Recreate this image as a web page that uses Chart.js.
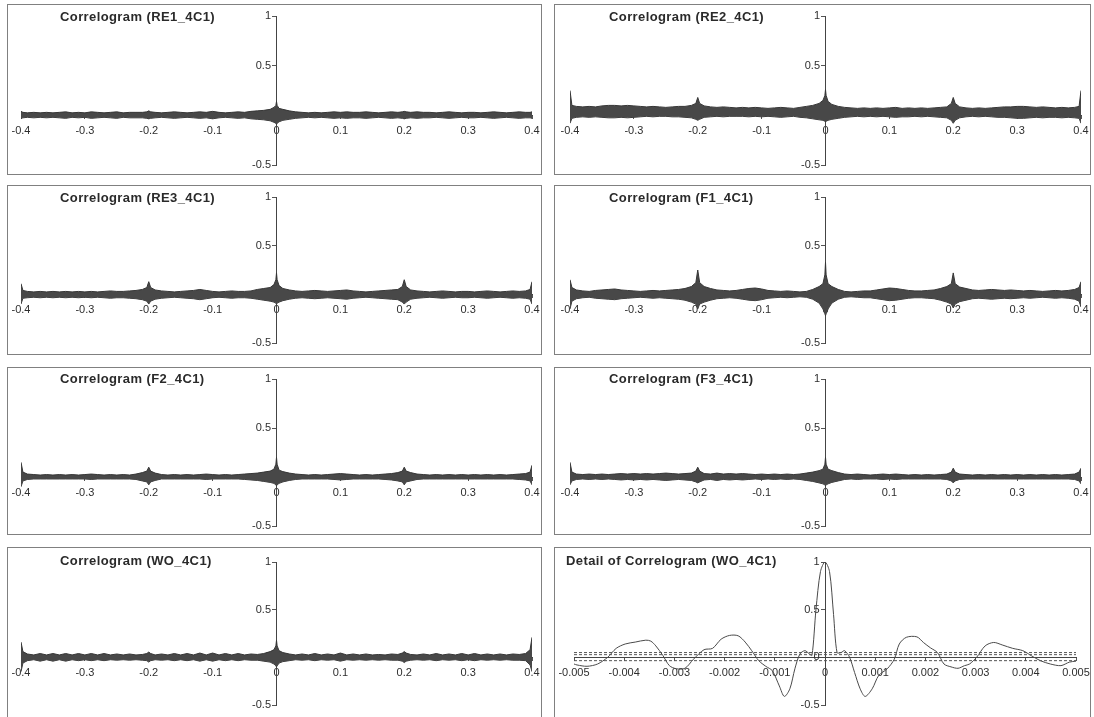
<!DOCTYPE html>
<html><head><meta charset="utf-8">
<script src="https://cdn.jsdelivr.net/npm/chart.js@4.4.1/dist/chart.umd.min.js"></script>
<style>
html,body{margin:0;padding:0;background:#fff;}
body{width:1094px;height:717px;position:relative;overflow:hidden;font-family:"Liberation Sans",Arial,sans-serif;}
.box{position:absolute;border:1px solid #808080;box-sizing:border-box;background:#fff;}
.box canvas{position:absolute;left:0;top:0;}
.ttl{position:absolute;font:bold 13px "Liberation Sans",Arial,sans-serif;letter-spacing:0.4px;color:#2a2a2a;white-space:nowrap;}
</style></head><body>
<script>
// ---------- DATA ----------
const lags = [-0.4,-0.397,-0.39,-0.38,-0.37,-0.36,-0.35,-0.34,-0.33,-0.32,
 -0.31,-0.3,-0.29,-0.28,-0.27,-0.26,-0.25,-0.24,-0.23,-0.22,
 -0.21,-0.203,-0.2,-0.197,-0.19,-0.18,-0.17,-0.16,-0.15,-0.14,
 -0.13,-0.12,-0.11,-0.1,-0.09,-0.08,-0.07,-0.06,-0.05,-0.04,
 -0.03,-0.02,-0.01,-0.004,-0.001,0,0.001,0.004,0.01,0.02,
 0.03,0.04,0.05,0.06,0.07,0.08,0.09,0.1,0.11,0.12,
 0.13,0.14,0.15,0.16,0.17,0.18,0.19,0.197,0.2,0.203,
 0.21,0.22,0.23,0.24,0.25,0.26,0.27,0.28,0.29,0.3,
 0.31,0.32,0.33,0.34,0.35,0.36,0.37,0.38,0.39,0.397,
 0.4];

const xTickVals = [-0.4,-0.3,-0.2,-0.1,0,0.1,0.2,0.3,0.4];
const xTickLabels = ["-0.4","-0.3","-0.2","-0.1","0","0.1","0.2","0.3","0.4"];
const yTickVals = [-0.5,0,0.5,1];
const yTickLabels = ["-0.5","0","0.5","1"];
const detailTickVals = [-0.005,-0.004,-0.003,-0.002,-0.001,0,0.001,0.002,0.003,0.004,0.005];
const detailTickLabels = ["-0.005","-0.004","-0.003","-0.002","-0.001","0","0.001","0.002","0.003","0.004","0.005"];

const re1Upper = [0.04,0.03,0.025,0.03,0.025,0.03,0.025,0.03,0.035,0.025,
 0.03,0.025,0.035,0.03,0.025,0.03,0.035,0.025,0.03,0.03,
 0.03,0.035,0.045,0.035,0.03,0.025,0.03,0.035,0.03,0.025,
 0.03,0.035,0.03,0.04,0.03,0.025,0.03,0.035,0.03,0.04,
 0.045,0.05,0.06,0.08,0.1,0.14,0.1,0.07,0.06,0.045,
 0.035,0.03,0.025,0.03,0.025,0.03,0.035,0.03,0.035,0.03,
 0.03,0.035,0.03,0.025,0.03,0.035,0.03,0.035,0.04,0.035,
 0.03,0.035,0.03,0.03,0.025,0.03,0.035,0.03,0.025,0.03,
 0.03,0.025,0.03,0.035,0.03,0.025,0.03,0.035,0.03,0.03,
 0.035];
const re1Lower = [-0.03,-0.025,-0.02,-0.025,-0.02,-0.025,-0.02,-0.025,-0.03,-0.02,
 -0.025,-0.02,-0.03,-0.025,-0.02,-0.025,-0.03,-0.02,-0.025,-0.025,
 -0.025,-0.03,-0.035,-0.03,-0.025,-0.02,-0.025,-0.03,-0.025,-0.02,
 -0.025,-0.03,-0.025,-0.035,-0.025,-0.02,-0.025,-0.03,-0.025,-0.035,
 -0.04,-0.045,-0.055,-0.07,-0.08,-0.09,-0.08,-0.065,-0.05,-0.04,
 -0.03,-0.025,-0.02,-0.025,-0.02,-0.025,-0.03,-0.025,-0.03,-0.025,
 -0.025,-0.03,-0.025,-0.02,-0.025,-0.03,-0.025,-0.03,-0.035,-0.03,
 -0.025,-0.03,-0.025,-0.025,-0.02,-0.025,-0.03,-0.025,-0.02,-0.025,
 -0.025,-0.02,-0.025,-0.03,-0.025,-0.02,-0.025,-0.03,-0.025,-0.025,
 -0.03];

const re2Upper = [0.25,0.1,0.09,0.085,0.09,0.085,0.095,0.1,0.1,0.095,
 0.1,0.095,0.09,0.085,0.09,0.085,0.08,0.085,0.09,0.09,
 0.1,0.12,0.18,0.12,0.095,0.085,0.08,0.085,0.08,0.075,
 0.08,0.075,0.08,0.075,0.07,0.075,0.08,0.075,0.07,0.08,
 0.09,0.1,0.12,0.15,0.2,0.26,0.2,0.14,0.11,0.09,
 0.08,0.075,0.07,0.075,0.07,0.075,0.07,0.075,0.08,0.07,
 0.075,0.07,0.075,0.07,0.075,0.08,0.085,0.12,0.18,0.12,
 0.085,0.075,0.07,0.075,0.07,0.075,0.08,0.085,0.085,0.09,
 0.09,0.085,0.08,0.085,0.08,0.075,0.08,0.075,0.08,0.09,
 0.25];
const re2Lower = [-0.08,-0.03,-0.02,-0.015,-0.02,-0.015,-0.02,-0.025,-0.025,-0.02,
 -0.025,-0.02,-0.015,-0.01,-0.015,-0.01,-0.01,-0.015,-0.015,-0.02,
 -0.025,-0.04,-0.05,-0.04,-0.02,-0.015,-0.01,-0.015,-0.01,-0.01,
 -0.01,-0.015,-0.01,-0.015,-0.01,-0.015,-0.02,-0.015,-0.01,-0.02,
 -0.025,-0.035,-0.045,-0.05,-0.06,-0.06,-0.06,-0.05,-0.04,-0.03,
 -0.02,-0.015,-0.01,-0.015,-0.01,-0.015,-0.01,-0.015,-0.02,-0.015,
 -0.015,-0.01,-0.015,-0.01,-0.015,-0.02,-0.025,-0.05,-0.08,-0.05,
 -0.025,-0.015,-0.01,-0.015,-0.01,-0.015,-0.02,-0.02,-0.025,-0.03,
 -0.03,-0.025,-0.02,-0.025,-0.02,-0.02,-0.025,-0.02,-0.025,-0.03,
 -0.08];

const re3Upper = [0.11,0.04,0.03,0.025,0.03,0.025,0.03,0.025,0.03,0.025,
 0.03,0.025,0.03,0.025,0.03,0.035,0.03,0.03,0.035,0.04,
 0.05,0.07,0.13,0.07,0.045,0.035,0.03,0.025,0.03,0.035,
 0.04,0.05,0.04,0.03,0.025,0.03,0.035,0.03,0.03,0.035,
 0.05,0.06,0.07,0.1,0.15,0.22,0.15,0.09,0.06,0.045,
 0.035,0.03,0.035,0.04,0.035,0.03,0.035,0.04,0.045,0.035,
 0.03,0.025,0.03,0.035,0.04,0.045,0.05,0.08,0.15,0.08,
 0.045,0.035,0.03,0.025,0.03,0.035,0.03,0.025,0.03,0.03,
 0.025,0.03,0.035,0.03,0.025,0.03,0.035,0.03,0.035,0.05,
 0.13];
const re3Lower = [-0.1,-0.04,-0.035,-0.03,-0.035,-0.03,-0.035,-0.03,-0.035,-0.03,
 -0.035,-0.03,-0.035,-0.03,-0.035,-0.04,-0.035,-0.035,-0.04,-0.045,
 -0.055,-0.07,-0.1,-0.07,-0.05,-0.04,-0.035,-0.03,-0.035,-0.04,
 -0.045,-0.055,-0.045,-0.035,-0.03,-0.035,-0.04,-0.035,-0.035,-0.04,
 -0.05,-0.06,-0.07,-0.08,-0.09,-0.1,-0.09,-0.08,-0.065,-0.05,
 -0.04,-0.035,-0.04,-0.045,-0.04,-0.035,-0.04,-0.045,-0.05,-0.04,
 -0.035,-0.03,-0.035,-0.04,-0.045,-0.05,-0.055,-0.08,-0.1,-0.08,
 -0.05,-0.04,-0.035,-0.03,-0.035,-0.04,-0.035,-0.03,-0.035,-0.035,
 -0.03,-0.035,-0.04,-0.035,-0.03,-0.035,-0.04,-0.035,-0.04,-0.05,
 -0.1];

const f1Upper = [0.15,0.07,0.045,0.035,0.03,0.04,0.045,0.05,0.055,0.045,
 0.04,0.035,0.03,0.035,0.04,0.035,0.04,0.045,0.05,0.06,
 0.08,0.12,0.25,0.12,0.08,0.06,0.045,0.04,0.035,0.04,
 0.05,0.06,0.065,0.055,0.04,0.035,0.03,0.035,0.03,0.025,
 0.03,0.05,0.08,0.11,0.2,0.33,0.2,0.11,0.08,0.05,
 0.03,0.025,0.03,0.035,0.035,0.045,0.055,0.065,0.06,0.05,
 0.04,0.035,0.035,0.04,0.045,0.06,0.08,0.11,0.22,0.11,
 0.075,0.06,0.045,0.04,0.045,0.05,0.045,0.04,0.045,0.04,
 0.035,0.04,0.035,0.03,0.035,0.04,0.035,0.04,0.05,0.07,
 0.13];
const f1Lower = [-0.15,-0.07,-0.045,-0.035,-0.03,-0.04,-0.045,-0.05,-0.055,-0.045,
 -0.04,-0.035,-0.03,-0.035,-0.04,-0.035,-0.04,-0.045,-0.05,-0.06,
 -0.08,-0.1,-0.15,-0.1,-0.08,-0.06,-0.045,-0.04,-0.035,-0.04,
 -0.05,-0.06,-0.065,-0.055,-0.04,-0.035,-0.03,-0.035,-0.03,-0.025,
 -0.03,-0.05,-0.09,-0.15,-0.2,-0.22,-0.2,-0.15,-0.09,-0.05,
 -0.03,-0.025,-0.03,-0.035,-0.035,-0.045,-0.055,-0.065,-0.06,-0.05,
 -0.04,-0.035,-0.035,-0.04,-0.045,-0.06,-0.08,-0.1,-0.14,-0.1,
 -0.075,-0.06,-0.045,-0.04,-0.045,-0.05,-0.045,-0.04,-0.045,-0.04,
 -0.035,-0.04,-0.035,-0.03,-0.035,-0.04,-0.035,-0.04,-0.05,-0.07,
 -0.13];

const f2Upper = [0.15,0.05,0.03,0.025,0.02,0.025,0.02,0.025,0.02,0.025,
 0.02,0.025,0.03,0.025,0.02,0.025,0.02,0.025,0.02,0.03,
 0.045,0.06,0.1,0.06,0.04,0.025,0.02,0.025,0.02,0.025,
 0.02,0.025,0.03,0.025,0.02,0.025,0.02,0.025,0.03,0.035,
 0.04,0.05,0.06,0.08,0.13,0.2,0.13,0.07,0.055,0.04,
 0.03,0.025,0.02,0.025,0.02,0.025,0.03,0.035,0.03,0.025,
 0.02,0.025,0.02,0.025,0.03,0.035,0.045,0.06,0.1,0.06,
 0.045,0.03,0.025,0.02,0.025,0.02,0.025,0.02,0.025,0.02,
 0.025,0.02,0.025,0.02,0.025,0.02,0.025,0.03,0.035,0.05,
 0.12];
const f2Lower = [-0.1,-0.04,-0.025,-0.02,-0.02,-0.02,-0.02,-0.02,-0.02,-0.02,
 -0.02,-0.02,-0.025,-0.02,-0.02,-0.02,-0.02,-0.02,-0.02,-0.025,
 -0.04,-0.05,-0.08,-0.05,-0.035,-0.02,-0.02,-0.02,-0.02,-0.02,
 -0.02,-0.02,-0.025,-0.02,-0.02,-0.02,-0.02,-0.02,-0.025,-0.03,
 -0.035,-0.045,-0.055,-0.065,-0.08,-0.09,-0.08,-0.065,-0.05,-0.035,
 -0.025,-0.02,-0.02,-0.02,-0.02,-0.02,-0.025,-0.03,-0.025,-0.02,
 -0.02,-0.02,-0.02,-0.02,-0.025,-0.03,-0.04,-0.05,-0.08,-0.05,
 -0.04,-0.025,-0.02,-0.02,-0.02,-0.02,-0.02,-0.02,-0.02,-0.02,
 -0.02,-0.02,-0.02,-0.02,-0.02,-0.02,-0.02,-0.025,-0.03,-0.04,
 -0.08];

const f3Upper = [0.15,0.05,0.03,0.025,0.03,0.025,0.03,0.025,0.03,0.035,
 0.03,0.035,0.03,0.035,0.03,0.035,0.04,0.035,0.03,0.035,
 0.04,0.06,0.1,0.06,0.035,0.03,0.04,0.03,0.035,0.03,
 0.035,0.03,0.025,0.03,0.025,0.03,0.025,0.03,0.025,0.03,
 0.04,0.05,0.065,0.08,0.13,0.2,0.13,0.08,0.065,0.045,
 0.03,0.025,0.03,0.025,0.02,0.025,0.03,0.025,0.03,0.025,
 0.02,0.025,0.02,0.025,0.02,0.025,0.03,0.05,0.09,0.05,
 0.03,0.025,0.02,0.025,0.02,0.025,0.02,0.025,0.02,0.025,
 0.02,0.025,0.02,0.025,0.02,0.025,0.02,0.025,0.03,0.05,
 0.09];
const f3Lower = [-0.08,-0.04,-0.025,-0.02,-0.025,-0.02,-0.025,-0.02,-0.025,-0.03,
 -0.025,-0.03,-0.025,-0.03,-0.025,-0.03,-0.035,-0.03,-0.025,-0.03,
 -0.035,-0.05,-0.06,-0.05,-0.03,-0.025,-0.035,-0.025,-0.03,-0.025,
 -0.03,-0.025,-0.02,-0.025,-0.02,-0.025,-0.02,-0.025,-0.02,-0.025,
 -0.035,-0.045,-0.06,-0.07,-0.08,-0.09,-0.08,-0.07,-0.055,-0.04,
 -0.025,-0.02,-0.025,-0.02,-0.02,-0.02,-0.025,-0.02,-0.025,-0.02,
 -0.02,-0.02,-0.02,-0.02,-0.02,-0.02,-0.025,-0.04,-0.06,-0.04,
 -0.025,-0.02,-0.02,-0.02,-0.02,-0.02,-0.02,-0.02,-0.02,-0.02,
 -0.02,-0.02,-0.02,-0.02,-0.02,-0.02,-0.02,-0.02,-0.025,-0.04,
 -0.07];

const woUpper = [0.16,0.06,0.035,0.025,0.04,0.025,0.04,0.025,0.04,0.025,
 0.04,0.025,0.04,0.025,0.04,0.025,0.035,0.025,0.035,0.025,
 0.03,0.04,0.055,0.04,0.025,0.035,0.025,0.04,0.025,0.04,
 0.025,0.045,0.025,0.045,0.025,0.04,0.025,0.04,0.025,0.035,
 0.03,0.04,0.06,0.08,0.12,0.18,0.12,0.07,0.05,0.035,
 0.025,0.035,0.025,0.04,0.025,0.035,0.025,0.045,0.025,0.035,
 0.025,0.035,0.025,0.03,0.025,0.035,0.03,0.045,0.06,0.045,
 0.03,0.025,0.035,0.025,0.04,0.025,0.035,0.025,0.04,0.025,
 0.04,0.025,0.035,0.025,0.035,0.025,0.035,0.03,0.04,0.08,
 0.21];
const woLower = [-0.15,-0.06,-0.035,-0.025,-0.04,-0.025,-0.04,-0.025,-0.04,-0.025,
 -0.035,-0.025,-0.035,-0.025,-0.035,-0.025,-0.03,-0.025,-0.03,-0.025,
 -0.03,-0.035,-0.05,-0.035,-0.025,-0.03,-0.025,-0.035,-0.025,-0.035,
 -0.025,-0.04,-0.025,-0.04,-0.025,-0.035,-0.025,-0.035,-0.025,-0.03,
 -0.03,-0.04,-0.05,-0.07,-0.09,-0.1,-0.09,-0.06,-0.045,-0.035,
 -0.025,-0.03,-0.025,-0.035,-0.025,-0.03,-0.025,-0.04,-0.025,-0.03,
 -0.025,-0.03,-0.025,-0.03,-0.025,-0.03,-0.03,-0.04,-0.055,-0.04,
 -0.03,-0.025,-0.03,-0.025,-0.035,-0.025,-0.03,-0.025,-0.035,-0.025,
 -0.035,-0.025,-0.03,-0.025,-0.03,-0.025,-0.03,-0.03,-0.035,-0.08,
 -0.15];

const detailLags = [-0.005,-0.00494,-0.00474,-0.00453,-0.00433,-0.00416,-0.00398,-0.00378,-0.00357,-0.00347,
 -0.00337,-0.00323,-0.0031,-0.00296,-0.00279,-0.00262,-0.00241,-0.00224,-0.00207,-0.0019,
 -0.00173,-0.00159,-0.00146,-0.00132,-0.00118,-0.00105,-0.00091,-0.00081,-0.0007,-0.0006,
 -0.0005,-0.0004,-0.00032,-0.00026,-0.00018,-0.00009,0,0.00009,0.00017,0.00024,
 0.00032,0.00039,0.00049,0.00059,0.0007,0.0008,0.00094,0.00107,0.00124,0.00138,
 0.00148,0.00162,0.00183,0.00196,0.0021,0.00224,0.00237,0.00251,0.00265,0.00278,
 0.00288,0.00302,0.00319,0.00336,0.00353,0.00374,0.00394,0.00411,0.00429,0.00449,
 0.0047,0.00487,0.005];
const detailValues = [-0.07,-0.08,-0.094,-0.07,0,0.094,0.14,0.16,0.18,0.17,
 0.12,0.02,-0.087,-0.12,-0.115,-0.02,0.08,0.094,0.19,0.23,
 0.226,0.16,0.07,-0.035,-0.094,-0.14,-0.3,-0.41,-0.33,-0.12,
 0.035,0.07,0.04,0.02,0.5,0.9,1.0,0.9,0.45,0.05,
 0.05,0.07,0,-0.16,-0.33,-0.41,-0.33,-0.19,-0.12,-0.02,
 0.14,0.21,0.215,0.156,0.1,0.05,-0.07,-0.1,-0.115,-0.087,
 -0.07,0,0.12,0.156,0.13,0.094,0.07,0.017,-0.035,-0.07,
 -0.087,-0.05,-0.04];
const detailBoundLevels = [0.05, 0.028, -0.035];

// ---------- LAYOUT ----------
const FONT = '"Liberation Sans", Arial, sans-serif';
const colGeom = [
  {left:7, width:535, padL:13, padR:9, titleX:60},
  {left:554, width:537, padL:15, padR:9, titleX:609}
];
const detailPad = {left:19, right:14};
const rowGeom = [
  {top:4, height:171, padT:11, padB:9, titleY:9},
  {top:185, height:170, padT:11, padB:11, titleY:190},
  {top:367, height:168, padT:11, padB:8, titleY:371},
  {top:547, height:172, padT:14, padB:13, titleY:553}
];
const panels = [
  {title:'Correlogram (RE1_4C1)', up:re1Upper, lo:re1Lower, col:0, row:0},
  {title:'Correlogram (RE2_4C1)', up:re2Upper, lo:re2Lower, col:1, row:0},
  {title:'Correlogram (RE3_4C1)', up:re3Upper, lo:re3Lower, col:0, row:1},
  {title:'Correlogram (F1_4C1)', up:f1Upper, lo:f1Lower, col:1, row:1},
  {title:'Correlogram (F2_4C1)', up:f2Upper, lo:f2Lower, col:0, row:2},
  {title:'Correlogram (F3_4C1)', up:f3Upper, lo:f3Lower, col:1, row:2},
  {title:'Correlogram (WO_4C1)', up:woUpper, lo:woLower, col:0, row:3},
  {title:'Detail of Correlogram (WO_4C1)', detail:true, col:1, row:3}
];

function zeroPad(s){ s.paddingLeft=0; s.paddingRight=0; s.paddingTop=0; s.paddingBottom=0; }

function scalesFor(xmin, xmax, xVals, xLabels){
  return {
    x:{type:'linear', min:xmin, max:xmax, position:{y:0},
       grid:{display:true, drawOnChartArea:false, drawTicks:true, tickLength:3, color:'#555', lineWidth:1},
       border:{display:true, color:'#444', width:1},
       afterBuildTicks:s=>{ s.ticks = xVals.map(v=>({value:v})); },
       ticks:{autoSkip:false, maxRotation:0, minRotation:0, padding:6, color:'#2e2e2e',
              font:{family:FONT, size:11}, callback:(v,i)=>xLabels[i]},
       afterFit:zeroPad},
    y:{type:'linear', min:-0.5, max:1, position:{x:0},
       grid:{display:true, drawOnChartArea:false, drawTicks:true, tickLength:4, color:'#555', lineWidth:1},
       border:{display:true, color:'#444', width:1},
       afterBuildTicks:s=>{ s.ticks = yTickVals.map(v=>({value:v})); },
       ticks:{autoSkip:false, color:'#2e2e2e', font:{family:FONT, size:11},
              callback:(v,i)=>yTickLabels[i] + '\u2002'},
       afterFit:zeroPad}
  };
}

panels.forEach(p=>{
  const c = colGeom[p.col], r = rowGeom[p.row];
  const box = document.createElement('div');
  box.className = 'box';
  box.style.left = c.left+'px'; box.style.top = r.top+'px';
  box.style.width = c.width+'px'; box.style.height = r.height+'px';
  const cv = document.createElement('canvas');
  cv.width = c.width-2; cv.height = r.height-2;
  cv.style.width = (c.width-2)+'px'; cv.style.height = (r.height-2)+'px';
  box.appendChild(cv);
  document.body.appendChild(box);
  const t = document.createElement('div');
  t.className = 'ttl';
  t.textContent = p.title;
  t.style.left = (p.detail ? 566 : c.titleX)+'px';
  t.style.top = r.titleY+'px';
  document.body.appendChild(t);

  let datasets, scales, padL = c.padL, padR = c.padR;
  if(!p.detail){
    datasets = [
      {data:lags.map((x,i)=>({x, y:p.up[i]})), borderColor:'#363636', borderWidth:1,
       backgroundColor:'#484848', fill:'+1', pointRadius:0, tension:0},
      {data:lags.map((x,i)=>({x, y:p.lo[i]})), borderColor:'#363636', borderWidth:1,
       fill:false, pointRadius:0, tension:0}
    ];
    scales = scalesFor(-0.4, 0.4, xTickVals, xTickLabels);
  } else {
    datasets = detailBoundLevels.map(b=>({
      data:[{x:-0.005, y:b},{x:0.005, y:b}], borderColor:'#555', borderWidth:1,
      borderDash:[3,2], fill:false, pointRadius:0
    }));
    datasets.push({data:detailLags.map((x,i)=>({x, y:detailValues[i]})), borderColor:'#4a4a4a',
      borderWidth:1, fill:false, pointRadius:0, tension:0.3});
    scales = scalesFor(-0.005, 0.005, detailTickVals, detailTickLabels);
    padL = detailPad.left; padR = detailPad.right;
  }
  new Chart(cv, {
    type:'line',
    data:{datasets},
    options:{
      responsive:false, animation:false, events:[],
      layout:{padding:{left:padL, right:padR, top:r.padT, bottom:r.padB}},
      plugins:{legend:{display:false}, tooltip:{enabled:false}, title:{display:false}},
      scales
    }
  });
});
</script>
</body></html>
